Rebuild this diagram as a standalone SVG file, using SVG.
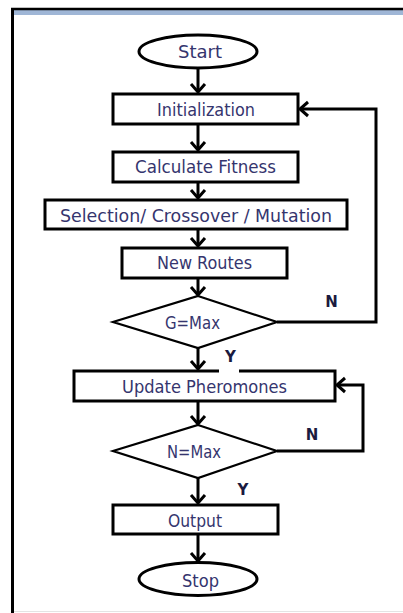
<svg xmlns="http://www.w3.org/2000/svg" width="403" height="613" viewBox="0 0 403 613">
  <style>
    .shape { fill: #ffffff; stroke: #000000; stroke-width: 3; }
    .dia { fill: #ffffff; stroke: #000000; stroke-width: 2.2; }
    .txt { font-family: "DejaVu Sans Condensed", "Liberation Sans Narrow", "DejaVu Sans", sans-serif; font-stretch: condensed; font-size: 18px; fill: #35356e; text-anchor: middle; }
    .lbl { font-family: "DejaVu Sans", "Liberation Sans", sans-serif; font-weight: bold; font-size: 15px; fill: #1a1a40; text-anchor: middle; }
    .conn { fill: none; stroke: #000000; stroke-width: 3; }
  </style>
  <defs>
    <marker id="arrow" markerUnits="userSpaceOnUse" markerWidth="20" markerHeight="20" refX="10" refY="10" orient="auto">
      <path d="M2,3 L10,10 L2,17" fill="none" stroke="#000000" stroke-width="3"/>
    </marker>
  </defs>

  <!-- page frame -->
  <rect x="0" y="0" width="403" height="613" fill="#ffffff"/>
  <rect x="12" y="10" width="391" height="5" fill="#9fb6d6"/>
  <line x1="11" y1="9" x2="403" y2="9" stroke="#000000" stroke-width="2.5"/>
  <line x1="12.5" y1="8" x2="12.5" y2="613" stroke="#000000" stroke-width="3"/>
  <line x1="14" y1="611.5" x2="403" y2="611.5" stroke="#e4e4e4" stroke-width="1"/>

  <!-- connectors -->
  <g id="connectors">
    <line class="conn" x1="198" y1="69" x2="198" y2="92" marker-end="url(#arrow)"/>
    <line class="conn" x1="198" y1="124" x2="198" y2="150" marker-end="url(#arrow)"/>
    <line class="conn" x1="198" y1="182" x2="198" y2="198" marker-end="url(#arrow)"/>
    <line class="conn" x1="198" y1="229" x2="198" y2="246" marker-end="url(#arrow)"/>
    <line class="conn" x1="198" y1="278" x2="198" y2="295" marker-end="url(#arrow)"/>
    <line class="conn" x1="198" y1="348" x2="198" y2="369" marker-end="url(#arrow)"/>
    <line class="conn" x1="198" y1="401" x2="198" y2="424" marker-end="url(#arrow)"/>
    <line class="conn" x1="198" y1="478" x2="198" y2="503" marker-end="url(#arrow)"/>
    <line class="conn" x1="198" y1="534" x2="198" y2="561" marker-end="url(#arrow)"/>
    <polyline class="conn" points="277,322 376,322 376,109 300,109" marker-end="url(#arrow)"/>
    <polyline class="conn" points="277,451 363,451 363,385 337,385" marker-end="url(#arrow)"/>
  </g>

  <g id="start">
    <ellipse class="shape" cx="198" cy="51.5" rx="59" ry="16.5"/>
    <text class="txt" x="200" y="58" textLength="44" lengthAdjust="spacingAndGlyphs">Start</text>
  </g>
  <g id="initialization">
    <rect class="shape" x="113" y="94" width="185" height="30"/>
    <text class="txt" x="206" y="116" textLength="98" lengthAdjust="spacingAndGlyphs">Initialization</text>
  </g>
  <g id="calculate-fitness">
    <rect class="shape" x="113" y="152" width="185" height="30"/>
    <text class="txt" x="205.5" y="173" textLength="141" lengthAdjust="spacingAndGlyphs">Calculate Fitness</text>
  </g>
  <g id="selection">
    <rect class="shape" x="45" y="200" width="302" height="29"/>
    <text class="txt" x="196" y="222" textLength="272" lengthAdjust="spacingAndGlyphs">Selection/ Crossover / Mutation</text>
  </g>
  <g id="new-routes">
    <rect class="shape" x="122" y="248" width="165" height="30"/>
    <text class="txt" x="204.5" y="269" textLength="95" lengthAdjust="spacingAndGlyphs">New Routes</text>
  </g>
  <g id="g-max">
    <polygon class="dia" points="198,296 277,322 198,348 113,322"/>
    <text class="txt" x="192.5" y="329" textLength="55" lengthAdjust="spacingAndGlyphs">G=Max</text>
    <text class="lbl" x="331.5" y="307">N</text>
  </g>
  <g id="update-pheromones">
    <rect class="shape" x="74" y="371" width="261" height="30"/>
    <rect x="219" y="368" width="20" height="5" fill="#ffffff"/>
    <text class="txt" x="204.5" y="393" textLength="165" lengthAdjust="spacingAndGlyphs">Update Pheromones</text>
    <text class="lbl" x="230.5" y="362">Y</text>
  </g>
  <g id="n-max">
    <polygon class="dia" points="198,425 277,451 198,478 113,451"/>
    <text class="txt" x="194" y="458" textLength="54" lengthAdjust="spacingAndGlyphs">N=Max</text>
    <text class="lbl" x="312" y="440">N</text>
  </g>
  <g id="output">
    <rect class="shape" x="113" y="505" width="165" height="29"/>
    <text class="txt" x="195" y="527" textLength="54" lengthAdjust="spacingAndGlyphs">Output</text>
    <text class="lbl" x="243" y="495">Y</text>
  </g>
  <g id="stop">
    <ellipse class="shape" cx="198" cy="579" rx="59" ry="16.5"/>
    <text class="txt" x="200.5" y="587" textLength="37" lengthAdjust="spacingAndGlyphs">Stop</text>
  </g>
</svg>
